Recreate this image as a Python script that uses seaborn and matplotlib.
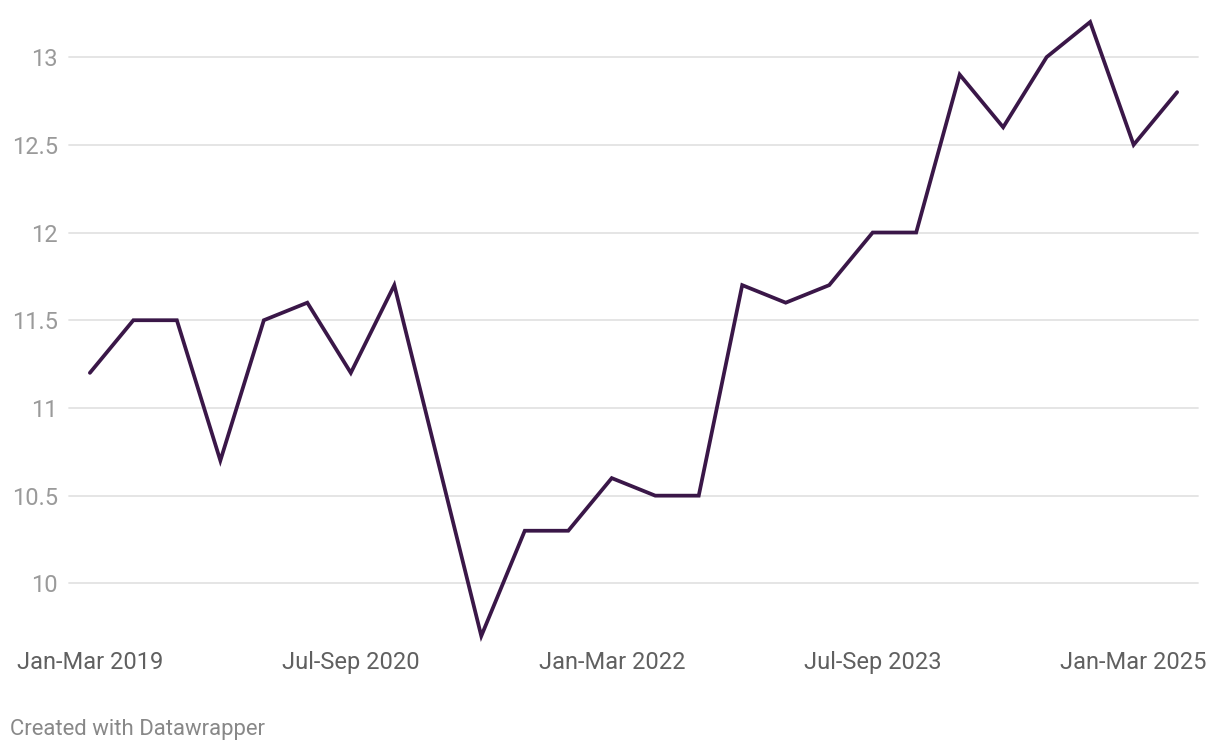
from matplotlib import pyplot as plt
import numpy as np
import pandas as pd
import seaborn as sns

quarters = ['Jan-Mar', 'Apr-Jun', 'Jul-Sep', 'Oct-Dec']
years = list(range(2019, 2026))
periods = [f"{q} {y}" for y in years for q in quarters][:26]
values = [11.2, 11.5, 11.5, 10.7, 11.5, 11.6, 11.2, 11.7, 10.7, 9.7,
          10.3, 10.3, 10.6, 10.5, 10.5, 11.7, 11.6, 11.7, 12.0, 12.0,
          12.9, 12.6, 13.0, 13.2, 12.5, 12.8]
tick_labels = ['Jan-Mar 2019', 'Jul-Sep 2020', 'Jan-Mar 2022', 'Jul-Sep 2023', 'Jan-Mar 2025']
y_ticks = [10, 10.5, 11, 11.5, 12, 12.5, 13]

LINE_COLOR = '#3a1748'


def create_dataframe():
    df = pd.DataFrame({'period': periods, 'value': values})
    df['idx'] = np.arange(len(df))
    return df


def draw_chart(df):
    sns.set_style('white')
    plt.rcParams['font.family'] = ['Roboto', 'DejaVu Sans']
    fig = plt.figure(figsize=(12.2, 7.52), dpi=100)
    ax = fig.add_axes([69 / 1220, 1 - 636 / 752, (1198 - 69) / 1220, (636 - 22) / 752])

    for t in y_ticks:
        ax.axhline(t, color='#e3e3e3', lw=1.3, zorder=0)
    sns.lineplot(data=df, x='idx', y='value', ax=ax, color=LINE_COLOR, lw=2.7)
    for l in ax.lines:
        l.set_clip_on(False)
        l.set_solid_joinstyle('miter')

    ax.set_xlim(-0.48, len(df) - 1 + 0.48)
    ax.set_ylim(9.7, 13.2)
    ax.set_yticks(y_ticks)
    ax.set_yticklabels([f"{t:g}" for t in y_ticks], color='#9a9a9a', fontsize=17)
    ax.tick_params(axis='y', length=0, pad=8)
    tick_pos = [periods.index(p) for p in tick_labels]
    ax.set_xticks(tick_pos)
    ax.set_xticklabels(tick_labels, color='#606060', fontsize=17)
    ax.tick_params(axis='x', length=0, pad=11)
    ax.set_xlabel('')
    ax.set_ylabel('')
    for s in ax.spines.values():
        s.set_visible(False)

    fig.text(10 / 1220, 1 - 730 / 752, 'Created with Datawrapper', color='#888888',
             fontsize=15.9, va='center', ha='left')
    fig.savefig('out.png', dpi=100)


draw_chart(create_dataframe())
